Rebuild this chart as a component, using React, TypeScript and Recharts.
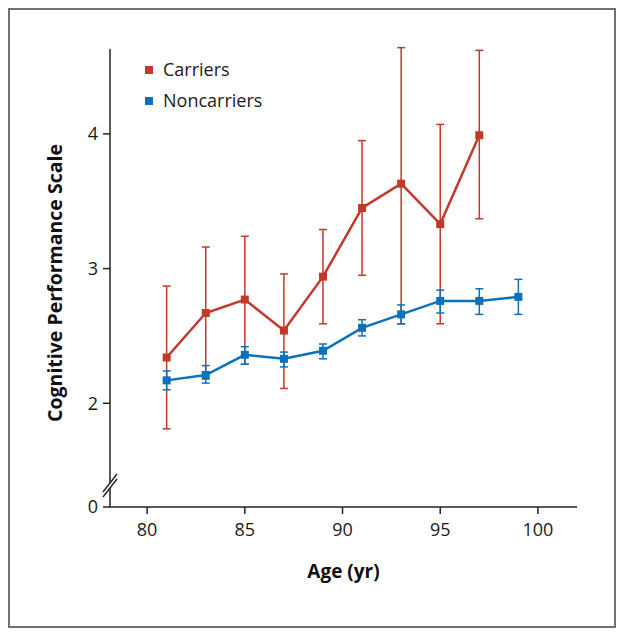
import { LineChart, Line, XAxis, YAxis, ErrorBar, ReferenceDot } from "recharts";

// ages (yr) at which each group was measured
const AGES = [81, 83, 85, 87, 89, 91, 93, 95, 97, 99];

// Carriers: mean and 95% CI bounds (no value at 99)
const CARRIERS = [2.34, 2.67, 2.77, 2.54, 2.94, 3.45, 3.63, 3.33, 3.99, null];
const CARRIERS_LOW = [1.81, 2.18, 2.29, 2.11, 2.59, 2.95, 2.59, 2.59, 3.37, null];
const CARRIERS_HIGH = [2.87, 3.16, 3.24, 2.96, 3.29, 3.95, 4.64, 4.07, 4.62, null];

// Noncarriers
const NONCARRIERS = [2.17, 2.21, 2.36, 2.33, 2.39, 2.56, 2.66, 2.76, 2.76, 2.79];
const NONCARRIERS_LOW = [2.1, 2.15, 2.29, 2.27, 2.33, 2.5, 2.59, 2.67, 2.66, 2.66];
const NONCARRIERS_HIGH = [2.24, 2.28, 2.42, 2.38, 2.44, 2.62, 2.73, 2.84, 2.85, 2.92];

const X_TICKS = [80, 85, 90, 95, 100];
// broken axis: bottom of the scale is labelled "0"
const Y_MIN = 1.23;
const Y_TICKS = [Y_MIN, 2, 3, 4];

const SERIES = [
  { name: "Carriers", color: "#c0392b" },
  { name: "Noncarriers", color: "#0b72b9" },
];
const RED = SERIES[0].color;
const BLUE = SERIES[1].color;
const FONT = "'Open Sans', 'Noto Sans', sans-serif";

const data = AGES.map((age, i) => ({
  age,
  carriers: CARRIERS[i],
  carriersErr:
    CARRIERS[i] == null ? undefined : [CARRIERS[i]! - CARRIERS_LOW[i]!, CARRIERS_HIGH[i]! - CARRIERS[i]!],
  noncarriers: NONCARRIERS[i],
  noncarriersErr: [NONCARRIERS[i] - NONCARRIERS_LOW[i], NONCARRIERS_HIGH[i] - NONCARRIERS[i]],
}));

const squareDot = (color: string) => (props: any) => {
  const { cx, cy, index } = props;
  if (cx == null || cy == null || props.value == null) return <g key={index} />;
  return <rect key={index} x={cx - 4} y={cy - 4} width={8} height={8} fill={color} />;
};

// the // marks on the y axis
const AxisBreak = (props: any) => {
  const { cx, cy } = props;
  const s = { stroke: "#222", strokeWidth: 1.4 };
  return (
    <g>
      <polygon
        points={`${cx - 7},${cy + 6.5} ${cx + 7},${cy - 11.5} ${cx + 7},${cy - 6.5} ${cx - 7},${cy + 11.5}`}
        fill="#fff"
      />
      <line x1={cx - 7} y1={cy + 6.5} x2={cx + 7} y2={cy - 11.5} {...s} />
      <line x1={cx - 7} y1={cy + 11.5} x2={cx + 7} y2={cy - 6.5} {...s} />
    </g>
  );
};

export default function App() {
  return (
    <div
      style={{
        position: "relative",
        width: 608,
        height: 620,
        border: "2px solid #707070",
        boxSizing: "border-box",
        background: "#fff",
      }}
    >
      <div
        style={{
          position: "absolute",
          top: 44,
          left: 135,
          fontFamily: FONT,
          fontSize: 18,
          color: "#1a1a1a",
          lineHeight: "31px",
          zIndex: 1,
        }}
      >
        {SERIES.map((s) => (
          <div key={s.name} style={{ display: "flex", alignItems: "center" }}>
            <span style={{ width: 8, height: 8, background: s.color, marginRight: 10, display: "inline-block" }} />
            {s.name}
          </div>
        ))}
      </div>
      <LineChart width={604} height={616} data={data} margin={{ top: 39, right: 37, left: 40, bottom: 39 }}>
        <XAxis
          dataKey="age"
          type="number"
          domain={[78.1, 102]}
          ticks={X_TICKS}
          height={80}
          tickSize={7}
          tickMargin={9}
          axisLine={{ stroke: "#222", strokeWidth: 1.5 }}
          tickLine={{ stroke: "#222", strokeWidth: 1.5 }}
          tick={{ fill: "#1a1a1a", fontSize: 18, fontFamily: FONT }}
          label={{
            value: "Age (yr)",
            position: "insideBottom",
            offset: 9,
            style: { fontFamily: FONT, fontSize: 19, fontWeight: 700, fill: "#111" },
          }}
        />
        <YAxis
          type="number"
          domain={[Y_MIN, 4.63]}
          allowDataOverflow
          ticks={Y_TICKS}
          width={60}
          tickSize={7}
          tickMargin={5}
          tickFormatter={(v: number) => (v < 1.5 ? "0" : String(v))}
          axisLine={{ stroke: "#222", strokeWidth: 1.5 }}
          tickLine={{ stroke: "#222", strokeWidth: 1.5 }}
          tick={{ fill: "#1a1a1a", fontSize: 18, fontFamily: FONT }}
          label={{
            value: "Cognitive Performance Scale",
            angle: -90,
            position: "center",
            dx: -25,
            dy: 5,
            style: { fontFamily: FONT, fontSize: 19.5, fontWeight: 700, fill: "#111", textAnchor: "middle" },
          }}
        />
        <Line
          dataKey="carriers"
          stroke={RED}
          strokeWidth={2.5}
          dot={squareDot(RED)}
          activeDot={false}
          isAnimationActive={false}
        >
          <ErrorBar dataKey="carriersErr" direction="y" width={4} stroke={RED} strokeWidth={1.5} isAnimationActive={false} />
        </Line>
        <Line
          dataKey="noncarriers"
          stroke={BLUE}
          strokeWidth={2.5}
          dot={squareDot(BLUE)}
          activeDot={false}
          isAnimationActive={false}
        >
          <ErrorBar dataKey="noncarriersErr" direction="y" width={4} stroke={BLUE} strokeWidth={1.5} isAnimationActive={false} />
        </Line>
        <ReferenceDot x={78.1} y={1.39} ifOverflow="visible" shape={AxisBreak} />
      </LineChart>
    </div>
  );
}
